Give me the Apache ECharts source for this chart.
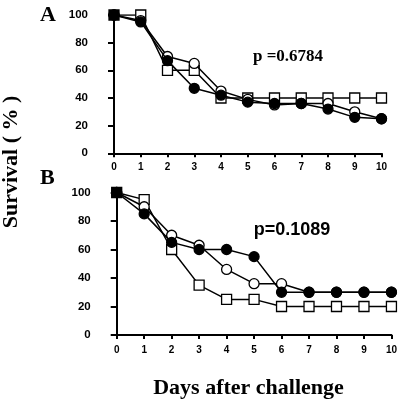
<!DOCTYPE html>
<html><head><meta charset="utf-8">
<script src="https://cdn.jsdelivr.net/npm/echarts@6/dist/echarts.min.js"></script>
<style>html,body{margin:0;padding:0;background:#fff}#c{width:400px;height:401px}</style>
</head><body><div id="c"></div>
<script>
var days = [0,1,2,3,4,5,6,7,8,9,10];
var yTicks = [0,20,40,60,80,100];
// Panel A
var aSquare = [100,100,60,60,40,40,40,40,40,40,40];
var aOpen   = [100,96,70,65,45,39,35,36,36,30,25];
var aFilled = [100,95,67,47,42,37,36,36,32,26,25];
// Panel B
var bSquare = [100,95,60,35,25,25,20,20,20,20,20];
var bOpen   = [100,90,70,63,46,36,36,30,30,30,30];
var bFilled = [100,85,65,60,60,55,30,30,30,30,30];
var pA = 'p =0.6784';
var pB = 'p=0.1089';

function pairs(v){ return days.map(function(d,i){ return [d, v[i]]; }); }
function sqData(v){
  var p = pairs(v);
  p[0] = {value: p[0], itemStyle: {color: '#000'}};
  return p;
}
var lab = {color:'#000', fontFamily:'Liberation Sans', fontWeight:'bold'};
function xAx(gi, margin){
  return {type:'value', gridIndex:gi, min:0, max:10, interval:1,
    axisLine:{lineStyle:{color:'#000', width:2}},
    axisTick:{length:4, lineStyle:{color:'#000', width:2}},
    splitLine:{show:false},
    axisLabel:Object.assign({fontSize:10, margin:margin}, lab)};
}
function yAx(gi){
  return {type:'value', gridIndex:gi, min:0, max:100, interval:20,
    axisLine:{show:true, lineStyle:{color:'#000', width:2}},
    axisTick:{show:true, length:6, lineStyle:{color:'#000', width:2}},
    splitLine:{show:false},
    axisLabel:Object.assign({fontSize:11.5, margin:26}, lab)};
}
function ser(gi, data, symbol, filled, z){
  return {type:'line', xAxisIndex:gi, yAxisIndex:gi, data:data,
    symbol:symbol, symbolSize:10, showAllSymbol:true, z:z,
    lineStyle:{color:'#000', width:1.5},
    itemStyle:{color: filled ? '#000' : '#fff', borderColor:'#000', borderWidth:1.3},
    animation:false};
}
var chart = echarts.init(document.getElementById('c'));
chart.setOption({
  animation:false,
  backgroundColor:'#fff',
  grid:[
    {left:114, top:15, width:267.5, height:138.3},
    {left:116.7, top:192.5, width:276, height:142.5}
  ],
  xAxis:[xAx(0, 9), xAx(1, 10)],
  yAxis:[yAx(0), yAx(1)],
  series:[
    ser(0, sqData(aSquare), 'rect', false, 2),
    ser(0, pairs(aOpen), 'circle', false, 3),
    ser(0, pairs(aFilled), 'circle', true, 4),
    ser(1, sqData(bSquare), 'rect', false, 2),
    ser(1, pairs(bOpen), 'circle', false, 3),
    ser(1, pairs(bFilled), 'circle', true, 4)
  ],
  graphic:[
    {type:'text', left:40, top:4, style:{text:'A', font:'bold 22px "Liberation Serif"', fill:'#000'}},
    {type:'text', left:40, top:167, style:{text:'B', font:'bold 22px "Liberation Serif"', fill:'#000'}},
    {type:'text', x:288, y:57, style:{text:pA, font:'bold 17px "Liberation Serif"', fill:'#000', align:'center', verticalAlign:'middle'}},
    {type:'text', x:292, y:230, style:{text:pB, font:'bold 18px "Liberation Sans"', fill:'#000', align:'center', verticalAlign:'middle'}},
    {type:'text', x:248.5, y:388, style:{text:'Days after challenge', font:'bold 22px "Liberation Serif"', fill:'#000', align:'center', verticalAlign:'middle'}},
    {type:'text', x:11, y:162, rotation:Math.PI/2, style:{text:'Survival ( % )', font:'bold 22px "Liberation Serif"', fill:'#000', align:'center', verticalAlign:'middle'}}
  ]
});
</script></body></html>
